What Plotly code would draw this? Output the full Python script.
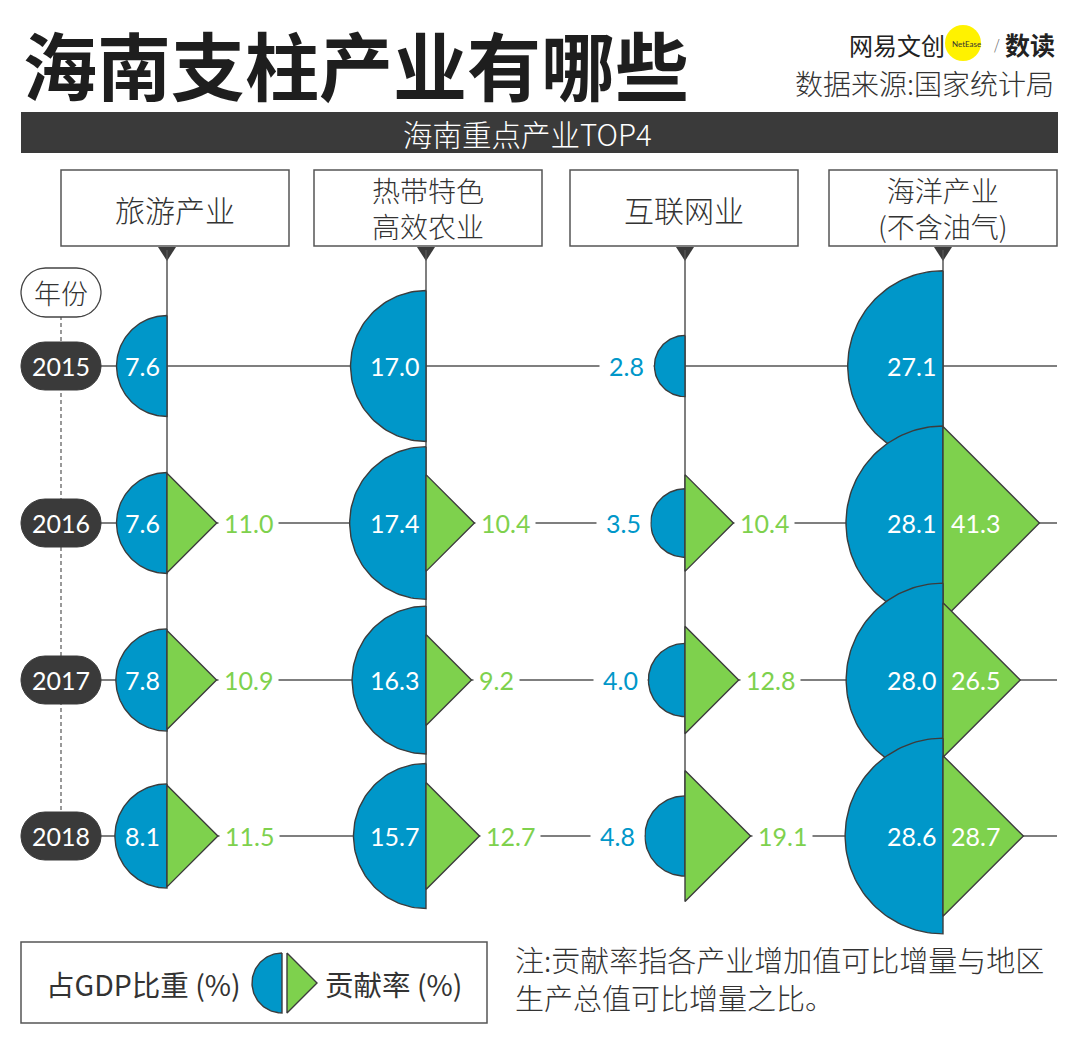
import numpy as np
import plotly.graph_objects as go

# ---------------- data ----------------
industries = ["旅游产业", "热带特色<br>高效农业", "互联网业", "海洋产业<br>(不含油气)"]
years = ["2015", "2016", "2017", "2018"]
gdp_tourism = [7.6, 7.6, 7.8, 8.1]
gdp_agri = [17.0, 17.4, 16.3, 15.7]
gdp_internet = [2.8, 3.5, 4.0, 4.8]
gdp_ocean = [27.1, 28.1, 28.0, 28.6]
contrib_tourism = [None, 11.0, 10.9, 11.5]
contrib_agri = [None, 10.4, 9.2, 12.7]
contrib_internet = [None, 10.4, 12.8, 19.1]
contrib_ocean = [None, 41.3, 26.5, 28.7]

title = "海南支柱产业有哪些"
subtitle = "海南重点产业TOP4"
source = "数据来源:国家统计局"
year_label = "年份"
legend_share = "占GDP比重 (%)"
legend_contrib = "贡献率 (%)"
note_text = "注:贡献率指各产业增加值可比增量与地区<br>生产总值可比增量之比。"

gdp_all = [gdp_tourism, gdp_agri, gdp_internet, gdp_ocean]
contrib_all = [contrib_tourism, contrib_agri, contrib_internet, contrib_ocean]

# ---------------- layout constants ----------------
W, H = 1080, 1049
COL_X = [167, 426, 685, 943]
BOX_X0 = [61, 314, 570, 829]
BOX_W = 228
ROW_Y = [366, 523, 680, 836]
R_K = 18.3   # semicircle radius per sqrt(value)
T_K = 15.0   # triangle size per sqrt(value)

BLUE = "#0097C9"
GREEN = "#7ED14D"
DARK = "#3A3A3A"
LINE = "#555555"
OUTL = "#3C3C3C"
TXT = "#333333"
CJK = "Noto Sans CJK SC"
NUM = "Lato"
LIGHT = 300

fig = go.Figure()
shapes = []
ann = []


def add_ann(text, x, y, size, color=TXT, family=CJK, xanchor="center", weight=LIGHT,
            bg=None, pad=0, align="center"):
    f = dict(size=size, color=color, family=family)
    if weight is not None:
        f["weight"] = weight
    d = dict(text=text, x=x, y=y, xref="x", yref="y", showarrow=False,
             xanchor=xanchor, yanchor="middle", font=f, borderpad=pad, align=align)
    if bg:
        d["bgcolor"] = bg
    ann.append(d)


def pill_pts(x0, x1, y0, y1, n=30):
    r = (y1 - y0) / 2.0
    cy = (y0 + y1) / 2.0
    a1 = np.linspace(-np.pi / 2, np.pi / 2, n)
    rx = list(x1 - r + r * np.cos(a1))
    ry = list(cy + r * np.sin(a1))
    a2 = np.linspace(np.pi / 2, 3 * np.pi / 2, n)
    lx = list(x0 + r + r * np.cos(a2))
    ly = list(cy + r * np.sin(a2))
    xs = rx + lx + [rx[0]]
    ys = ry + ly + [ry[0]]
    return xs, ys


def semi_pts(cx, cy, r, n=80):
    th = np.linspace(np.pi / 2, 3 * np.pi / 2, n)
    xs = list(cx + r * np.cos(th)) + [cx]
    ys = list(cy - r * np.sin(th)) + [cy - r]
    return xs, ys


def tri_pts(cx, cy, a):
    return [cx, cx + a, cx, cx], [cy - a, cy, cy + a, cy - a]


def poly(xs, ys, fill, line=OUTL, width=1.4):
    fig.add_trace(go.Scatter(x=xs, y=ys, mode="lines", fill="toself", fillcolor=fill,
                             line=dict(color=line, width=width), hoverinfo="skip",
                             showlegend=False))


# ---------------- header ----------------
add_ann(title, 22, 62, 74, color="#1E1E1E", xanchor="left", weight="bold")
shapes.append(dict(type="rect", x0=21, x1=1058, y0=112, y1=153, fillcolor=DARK,
                   line=dict(width=0), layer="below"))
add_ann(subtitle, 527, 133, 29.5, color="white")

# logo
shapes.append(dict(type="circle", x0=945, x1=981, y0=25, y1=61, fillcolor="#FFF200",
                   line=dict(width=0), layer="below"))
add_ann("网易文创", 946, 44, 24, color="#222222", xanchor="right", weight=None)
add_ann("NetEase", 951, 44, 8, color="#333333", family=NUM, xanchor="left", weight=None)
add_ann("/", 997, 44, 14, color="#666666")
add_ann("数读", 1056, 44, 25, color="#222222", xanchor="right", weight="bold")
add_ann(source, 1055, 83, 28, color=TXT, xanchor="right")

# industry boxes
for i, name in enumerate(industries):
    x0 = BOX_X0[i]
    shapes.append(dict(type="rect", x0=x0, x1=x0 + BOX_W, y0=170, y1=246,
                       fillcolor="white", line=dict(color=LINE, width=1.5), layer="below"))
    size = 30 if "<br>" not in name else 28
    add_ann(name, x0 + BOX_W / 2, 209 if size == 30 else 208, size, color=TXT)
    cx = COL_X[i]
    shapes.append(dict(type="path", path=f"M {cx-9},247 L {cx+9},247 L {cx},261 Z",
                       fillcolor=DARK, line=dict(width=0), layer="below"))
    shapes.append(dict(type="line", x0=cx, x1=cx, y0=250, y1=ROW_Y[-1],
                       line=dict(color=LINE, width=1.5), layer="below"))

# year axis
shapes.append(dict(type="line", x0=61, x1=61, y0=316, y1=812,
                   line=dict(color=LINE, width=1.2, dash="4px,3px"), layer="below"))
for y in ROW_Y:
    shapes.append(dict(type="line", x0=61, x1=1057, y0=y, y1=y,
                       line=dict(color=LINE, width=1.5), layer="below"))

xs, ys = pill_pts(21, 101, 268, 317)
poly(xs, ys, "white", line="#444444", width=1.3)
add_ann(year_label, 61, 292, 27, color=TXT)
for j, yr in enumerate(years):
    xs, ys = pill_pts(21, 101, ROW_Y[j] - 24, ROW_Y[j] + 24)
    poly(xs, ys, DARK, line=DARK, width=1)
    add_ann(yr, 61, ROW_Y[j], 25, color="white", family=NUM, weight=None)

# ---------------- marks ----------------
for j in range(len(years)):
    cy = ROW_Y[j]
    for i in range(len(industries)):
        cx = COL_X[i]
        v = gdp_all[i][j]
        r = R_K * np.sqrt(v)
        xs, ys = semi_pts(cx, cy, r)
        poly(xs, ys, BLUE)
        if r > 45:
            add_ann(f"{v:.1f}", cx - 6, cy, 25, color="white", family=NUM,
                    xanchor="right", weight=None)
        else:
            add_ann(f"{v:.1f}", cx - r, cy, 25, color=BLUE, family=NUM, xanchor="right",
                    bg="white", pad=9, weight=None)
        c = contrib_all[i][j]
        if c is not None:
            a = T_K * np.sqrt(c)
            xs, ys = tri_pts(cx, cy, a)
            poly(xs, ys, GREEN)
            if a > 70:
                add_ann(f"{c:.1f}", cx + 7, cy, 25, color="white", family=NUM,
                        xanchor="left", weight=None)
            else:
                add_ann(f"{c:.1f}", cx + a + 1, cy, 25, color=GREEN, family=NUM,
                        xanchor="left", bg="white", pad=5, weight=None)

# ---------------- legend & note ----------------
shapes.append(dict(type="rect", x0=21, x1=487, y0=942, y1=1023, fillcolor="white",
                   line=dict(color=LINE, width=1.5), layer="below"))
xs, ys = semi_pts(282, 983, 30)
poly(xs, ys, BLUE)
xs, ys = tri_pts(287, 983, 30)
poly(xs, ys, GREEN)
add_ann(legend_share, 242, 983, 28.5, color=TXT, xanchor="right", weight=None)
add_ann(legend_contrib, 324, 983, 28.5, color=TXT, xanchor="left", weight=None)
add_ann(note_text, 514, 978, 29, color=TXT, xanchor="left", align="left")

fig.update_layout(
    width=W, height=H, margin=dict(l=0, r=0, t=0, b=0),
    paper_bgcolor="white", plot_bgcolor="white",
    xaxis=dict(range=[0, W], visible=False, fixedrange=True),
    yaxis=dict(range=[H, 0], visible=False, fixedrange=True),
    shapes=shapes, annotations=ann, showlegend=False,
)
fig.write_html("out.html")
